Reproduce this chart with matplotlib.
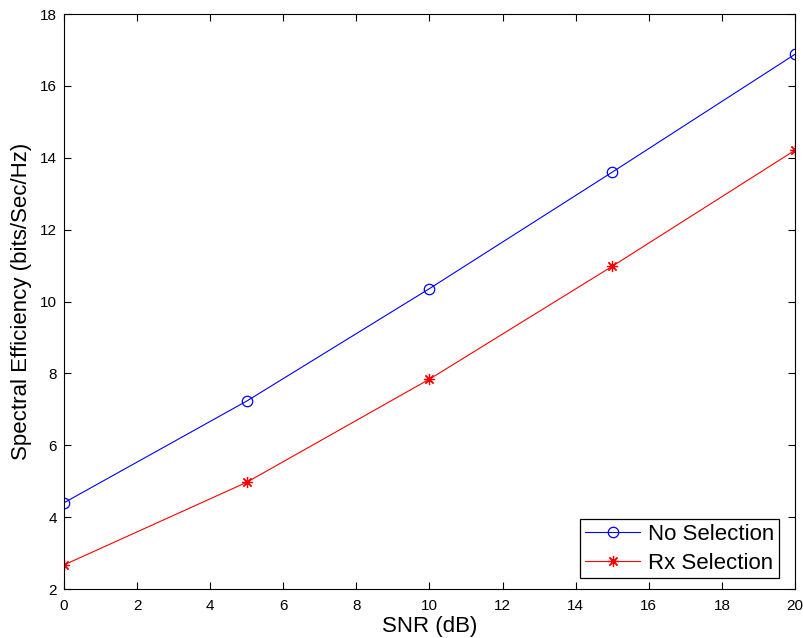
import matplotlib.pyplot as plt

plt.rcParams['font.family'] = ['Liberation Sans', 'DejaVu Sans']

snr_db = [0, 5, 10, 15, 20]
no_selection = [4.40, 7.23, 10.36, 13.60, 16.88]
rx_selection = [2.67, 4.97, 7.84, 10.98, 14.21]

fig = plt.figure(figsize=(8.04, 6.38), dpi=100)
ax = fig.add_axes([0.0796, 0.0768, 0.9092, 0.9012])

# asterisk marker: 8 spokes, like '+' and 'x' on top of each other
asterisk = (8, 2, 0)

ax.plot(snr_db, no_selection, color='blue', marker='o', markersize=7.5,
        markerfacecolor='none', markeredgewidth=0.9, linewidth=0.8,
        label='No Selection')
ax.plot(snr_db, rx_selection, color='red', marker=asterisk, markersize=8,
        markeredgewidth=0.9, linewidth=0.8, label='Rx Selection')

ax.set_xlim(0, 20)
ax.set_ylim(2, 18)
ax.set_xticks(range(0, 21, 2))
ax.set_yticks(range(2, 19, 2))
ax.tick_params(direction='in', top=True, right=True, labelsize=11, length=5)
ax.tick_params(axis='x', pad=7)
ax.tick_params(axis='y', pad=5)
for s in ax.spines.values():
    s.set_linewidth(0.8)

ax.set_xlabel('SNR (dB)', fontsize=16, labelpad=2)
ax.set_ylabel('Spectral Efficiency (bits/Sec/Hz)', fontsize=16, labelpad=6)

leg = ax.legend(loc='lower right', fontsize=16, fancybox=False, edgecolor='black',
                framealpha=1, borderpad=0.2, labelspacing=0.35, handlelength=2.5,
                handletextpad=0.35, borderaxespad=0,
                bbox_to_anchor=(0.978, 0.019))
leg.get_frame().set_linewidth(0.9)

fig.savefig('out.png', dpi=100)
